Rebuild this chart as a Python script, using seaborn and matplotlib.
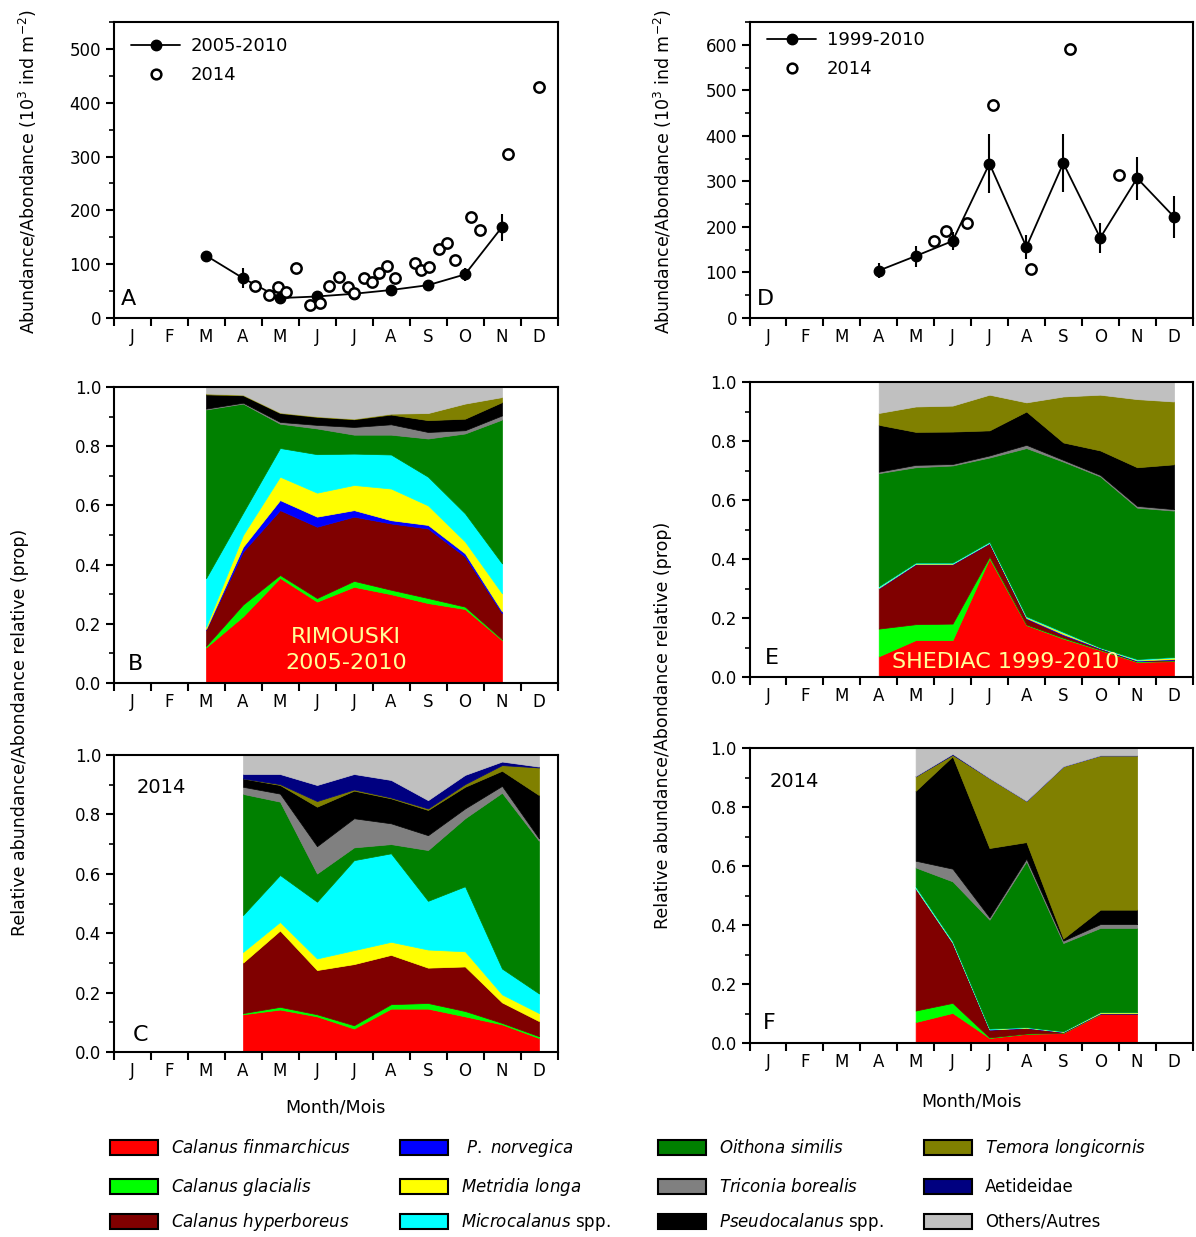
import numpy as np
import pandas as pd
import matplotlib
matplotlib.use("Agg")
import matplotlib.pyplot as plt
import seaborn as sns
from matplotlib.lines import Line2D
from matplotlib.patches import Patch
from matplotlib.ticker import MultipleLocator, FormatStrFormatter

# ------------------------------------------------------------------ data
MONTHS = ["J", "F", "M", "A", "M", "J", "J", "A", "S", "O", "N", "D"]

SPECIES_KEYS = ["cfin", "cgla", "chyp", "pnor", "mlon", "micr",
                "oith", "tric", "pseu", "temo", "aeti", "othr"]
SPECIES_LABELS = [r"$\it{Calanus\ finmarchicus}$", r"$\it{Calanus\ glacialis}$",
                  r"$\it{Calanus\ hyperboreus}$", r" $\it{P.\ norvegica}$",
                  r"$\it{Metridia\ longa}$", r"$\it{Microcalanus}$ spp.",
                  r"$\it{Oithona\ similis}$", r"$\it{Triconia\ borealis}$",
                  r"$\it{Pseudocalanus}$ spp.", r"$\it{Temora\ longicornis}$",
                  "Aetideidae", "Others/Autres"]
SPECIES_COLORS = ["#FF0000", "#00FF00", "#800000", "#0000FF", "#FFFF00", "#00FFFF",
                  "#008000", "#808080", "#000000", "#808000", "#000080", "#C0C0C0"]

# Panel A - Rimouski abundance (10^3 ind m-2), month position (0 = 1 Jan)
rim_mean_x = [2.5, 3.5, 4.5, 5.5, 6.5, 7.5, 8.5, 9.5, 10.5]
rim_mean = [116, 74, 37, 40, 45, 52, 61, 81, 169]
rim_err = [6, 18, 8, 6, 5, 7, 6, 12, 25]
rim14_x = [3.82, 4.20, 4.44, 4.66, 4.92, 5.31, 5.59, 5.83, 6.10, 6.33, 6.51, 6.77, 6.98,
           7.18, 7.39, 7.61, 8.16, 8.31, 8.54, 8.80, 9.01, 9.22, 9.67, 9.91, 10.66, 11.50]
rim14 = [60, 42, 57, 49, 92, 25, 27, 60, 77, 57, 46, 75, 66,
         84, 97, 74, 102, 90, 95, 129, 140, 107, 188, 163, 305, 429]

# Panel D - Shediac abundance
she_mean_x = [3.5, 4.5, 5.5, 6.5, 7.5, 8.5, 9.5, 10.5, 11.5]
she_mean = [104, 136, 169, 339, 156, 340, 176, 307, 222]
she_err = [17, 23, 20, 65, 26, 64, 33, 47, 47]
she14_x = [4.99, 5.33, 5.90, 6.59, 7.62, 8.67, 10.01]
she14 = [170, 191, 209, 468, 108, 590, 313]

# Panel B - Rimouski 2005-2010 relative composition, months Mar..Nov
rimB_months = [3, 4, 5, 6, 7, 8, 9, 10, 11]
rimB = dict(
    cfin=[0.120, 0.225, 0.355, 0.275, 0.325, 0.300, 0.270, 0.250, 0.145],
    cgla=[0.005, 0.040, 0.010, 0.012, 0.020, 0.015, 0.017, 0.008, 0.003],
    chyp=[0.055, 0.179, 0.219, 0.241, 0.217, 0.224, 0.235, 0.169, 0.088],
    pnor=[0.002, 0.016, 0.034, 0.034, 0.022, 0.011, 0.012, 0.011, 0.006],
    mlon=[0.008, 0.040, 0.079, 0.081, 0.085, 0.107, 0.066, 0.040, 0.061],
    micr=[0.164, 0.075, 0.097, 0.130, 0.106, 0.115, 0.097, 0.095, 0.101],
    oith=[0.570, 0.369, 0.082, 0.087, 0.064, 0.067, 0.129, 0.270, 0.486],
    tric=[0.003, 0.003, 0.006, 0.012, 0.026, 0.035, 0.022, 0.011, 0.014],
    pseu=[0.048, 0.025, 0.030, 0.027, 0.026, 0.033, 0.040, 0.039, 0.045],
    temo=[0.003, 0.002, 0.002, 0.002, 0.002, 0.003, 0.024, 0.051, 0.017],
    aeti=[0.0, 0.0, 0.0, 0.0, 0.0, 0.0, 0.0, 0.0, 0.0],
    othr=[0.022, 0.026, 0.086, 0.099, 0.107, 0.090, 0.088, 0.056, 0.034],
)

# Panel C - Rimouski 2014, months Apr..Dec
rimC_months = [4, 5, 6, 7, 8, 9, 10, 11, 12]
rimC = dict(
    cfin=[0.127, 0.143, 0.120, 0.079, 0.146, 0.146, 0.120, 0.093, 0.047],
    cgla=[0.004, 0.009, 0.007, 0.011, 0.015, 0.019, 0.018, 0.005, 0.006],
    chyp=[0.170, 0.257, 0.149, 0.206, 0.166, 0.119, 0.150, 0.069, 0.051],
    pnor=[0.0, 0.0, 0.0, 0.0, 0.0, 0.0, 0.0, 0.0, 0.0],
    mlon=[0.036, 0.029, 0.039, 0.047, 0.044, 0.061, 0.051, 0.027, 0.027],
    micr=[0.124, 0.158, 0.191, 0.303, 0.298, 0.164, 0.219, 0.087, 0.066],
    oith=[0.408, 0.247, 0.095, 0.043, 0.031, 0.171, 0.229, 0.592, 0.514],
    tric=[0.024, 0.027, 0.092, 0.098, 0.070, 0.050, 0.033, 0.023, 0.008],
    pseu=[0.028, 0.029, 0.133, 0.093, 0.084, 0.085, 0.073, 0.051, 0.146],
    temo=[0.000, 0.003, 0.019, 0.004, 0.003, 0.005, 0.009, 0.019, 0.093],
    aeti=[0.015, 0.034, 0.054, 0.052, 0.059, 0.028, 0.031, 0.012, 0.003],
    othr=[0.064, 0.064, 0.101, 0.064, 0.084, 0.152, 0.067, 0.022, 0.039],
)

# Panel E - Shediac 1999-2010, months Apr..Dec
sheE_months = [4, 5, 6, 7, 8, 9, 10, 11, 12]
sheE = dict(
    cfin=[0.070, 0.125, 0.125, 0.402, 0.176, 0.130, 0.091, 0.051, 0.054],
    cgla=[0.094, 0.054, 0.056, 0.006, 0.002, 0.003, 0.002, 0.002, 0.002],
    chyp=[0.136, 0.203, 0.201, 0.045, 0.020, 0.009, 0.003, 0.001, 0.003],
    pnor=[0.002, 0.002, 0.002, 0.002, 0.002, 0.003, 0.002, 0.002, 0.002],
    mlon=[0.002, 0.001, 0.001, 0.001, 0.003, 0.005, 0.001, 0.002, 0.005],
    micr=[0.004, 0.003, 0.003, 0.003, 0.003, 0.003, 0.001, 0.003, 0.002],
    oith=[0.383, 0.323, 0.329, 0.285, 0.570, 0.577, 0.580, 0.513, 0.496],
    tric=[0.005, 0.008, 0.005, 0.007, 0.011, 0.006, 0.005, 0.006, 0.005],
    pseu=[0.159, 0.112, 0.110, 0.085, 0.113, 0.059, 0.083, 0.131, 0.152],
    temo=[0.040, 0.086, 0.088, 0.121, 0.031, 0.156, 0.189, 0.231, 0.213],
    aeti=[0.0, 0.0, 0.0, 0.0, 0.0, 0.0, 0.0, 0.0, 0.0],
    othr=[0.105, 0.083, 0.080, 0.043, 0.069, 0.049, 0.043, 0.058, 0.066],
)

# Panel F - Shediac 2014, months May..Nov
sheF_months = [5, 6, 7, 8, 9, 10, 11]
sheF = dict(
    cfin=[0.071, 0.102, 0.017, 0.031, 0.034, 0.098, 0.098],
    cgla=[0.039, 0.034, 0.002, 0.001, 0.001, 0.001, 0.001],
    chyp=[0.413, 0.203, 0.026, 0.019, 0.002, 0.001, 0.001],
    pnor=[0.001, 0.001, 0.001, 0.001, 0.001, 0.001, 0.001],
    mlon=[0.002, 0.002, 0.001, 0.001, 0.001, 0.003, 0.003],
    micr=[0.005, 0.004, 0.002, 0.001, 0.001, 0.001, 0.001],
    oith=[0.064, 0.202, 0.369, 0.562, 0.299, 0.285, 0.285],
    tric=[0.023, 0.043, 0.008, 0.009, 0.008, 0.013, 0.013],
    pseu=[0.237, 0.381, 0.235, 0.056, 0.007, 0.049, 0.049],
    temo=[0.049, 0.005, 0.237, 0.140, 0.584, 0.523, 0.523],
    aeti=[0.001, 0.003, 0.0, 0.0, 0.0, 0.0, 0.0],
    othr=[0.095, 0.020, 0.102, 0.179, 0.062, 0.025, 0.025],
)

# ------------------------------------------------------------------ style
sns.set_theme(style="ticks")
plt.rcParams["font.family"] = ["DejaVu Sans"]
plt.rcParams["mathtext.fontset"] = "dejavusans"
plt.rcParams["text.color"] = "black"
plt.rcParams["axes.labelcolor"] = "black"
plt.rcParams["xtick.color"] = "black"
plt.rcParams["ytick.color"] = "black"

W, H = 1196, 1237
fig = plt.figure(figsize=(W / 100, H / 100), dpi=100)


def rect(l, r, t, b):
    return [l / W, 1 - b / H, (r - l) / W, (b - t) / H]


TICK_FS = 12
LABEL_FS = 12.5


def style_axes(ax, ymax, major, minor, fmt=None):
    ax.set_xlim(0, 12)
    ax.set_ylim(0, ymax)
    ax.set_xticks(np.arange(13))
    ax.set_xticklabels([])
    ax.set_xticks(np.arange(12) + 0.5, minor=True)
    ax.set_xticklabels(MONTHS, minor=True)
    ax.tick_params(axis="x", which="major", length=6, width=1.5, direction="out")
    ax.tick_params(axis="x", which="minor", length=0, pad=7, labelsize=TICK_FS)
    ax.yaxis.set_major_locator(MultipleLocator(major))
    ax.yaxis.set_minor_locator(MultipleLocator(minor))
    if fmt:
        ax.yaxis.set_major_formatter(FormatStrFormatter(fmt))
    ax.tick_params(axis="y", which="major", length=6, width=1.5, direction="out",
                   labelsize=TICK_FS, pad=3)
    ax.tick_params(axis="y", which="minor", length=3.5, width=1.2, direction="out")
    for s in ax.spines.values():
        s.set_visible(True)
        s.set_linewidth(1.5)
        s.set_color("black")
    ax.grid(False)
    ax.set_xlabel("")
    ax.set_ylabel("")


def abundance_panel(ax, mx, my, merr, px, py, lab_mean, letter, ymax, leg_y):
    ax.errorbar(mx, my, yerr=merr, fmt="-o", color="black", lw=1.3, ms=7.5,
                elinewidth=1.5, capsize=0, zorder=3)
    df = pd.DataFrame({"month": px, "abund": py})
    sns.scatterplot(data=df, x="month", y="abund", ax=ax, marker="o", s=55,
                    facecolor="white", edgecolor="black", linewidth=1.8, zorder=4)
    style_axes(ax, ymax, 100, 50)
    handles = [Line2D([0], [0], color="black", lw=1.3, marker="o", ms=7.5),
               Line2D([0], [0], color="none", marker="o", ms=7, mfc="white",
                      mec="black", mew=1.8)]
    ax.legend(handles, [lab_mean, "2014"], loc="upper left", frameon=False,
              fontsize=13, handlelength=2.7, handletextpad=0.6, labelspacing=0.58,
              borderpad=0, borderaxespad=0,
              bbox_to_anchor=(0.04, leg_y))
    ax.text(0.017, 0.03, letter, transform=ax.transAxes, fontsize=16,
            ha="left", va="bottom")


def composition_panel(ax, months, data, letter, letter_xy):
    x = np.array(months) - 0.5
    ys = [np.array(data[k]) for k in SPECIES_KEYS]
    polys = ax.stackplot(x, ys, colors=SPECIES_COLORS, zorder=2)
    for poly, y in zip(polys, ys):
        if y.max() > 0:
            poly.set_edgecolor("face")
            poly.set_linewidth(0.5)
        else:
            poly.set_linewidth(0)
    style_axes(ax, 1.0, 0.2, 0.1, "%.1f")
    ax.text(letter_xy[0], letter_xy[1], letter, transform=ax.transAxes,
            fontsize=16, ha="left", va="bottom", zorder=5)


# ------------------------------------------------------------------ panels
axA = fig.add_axes(rect(113.5, 557.5, 22, 318))
abundance_panel(axA, rim_mean_x, rim_mean, rim_err, rim14_x, rim14,
                "2005-2010", "A", 550, 0.948)

axD = fig.add_axes(rect(749.5, 1192.5, 22, 318))
abundance_panel(axD, she_mean_x, she_mean, she_err, she14_x, she14,
                "1999-2010", "D", 650, 0.968)

axB = fig.add_axes(rect(113.5, 557.5, 387, 683))
composition_panel(axB, rimB_months, rimB, "B", (0.033, 0.03))
axB.text(6.28, 0.112, "RIMOUSKI\n2005-2010", ha="center", va="center",
         fontsize=16, color="#FFFF99", linespacing=1.35, zorder=6)

axC = fig.add_axes(rect(113.5, 557.5, 755, 1052))
composition_panel(axC, rimC_months, rimC, "C", (0.044, 0.025))
axC.text(0.053, 0.89, "2014", transform=axC.transAxes, fontsize=14,
         ha="left", va="center")

axE = fig.add_axes(rect(749.5, 1192.5, 382, 677))
composition_panel(axE, sheE_months, sheE, "E", (0.035, 0.03))
axE.text(6.95, 0.05, "SHEDIAC 1999-2010", ha="center", va="center",
         fontsize=16, color="#FFFF99", zorder=6)

axF = fig.add_axes(rect(749.5, 1192.5, 748, 1043))
composition_panel(axF, sheF_months, sheF, "F", (0.03, 0.035))
axF.text(0.046, 0.885, "2014", transform=axF.transAxes, fontsize=14,
         ha="left", va="center")

# ------------------------------------------------------------------ labels
ab_label = r"Abundance/Abondance (10$^3$ ind m$^{-2}$)"
rel_label = "Relative abundance/Abondance relative (prop)"
fig.text(28 / W, 1 - 172 / H, ab_label, rotation=90, ha="center", va="center",
         fontsize=LABEL_FS)
fig.text(663 / W, 1 - 172 / H, ab_label, rotation=90, ha="center", va="center",
         fontsize=LABEL_FS)
fig.text(20 / W, 1 - 732 / H, rel_label, rotation=90, ha="center", va="center",
         fontsize=LABEL_FS)
fig.text(663 / W, 1 - 725 / H, rel_label, rotation=90, ha="center", va="center",
         fontsize=LABEL_FS)
fig.text(335 / W, 1 - 1107 / H, "Month/Mois", ha="center", va="center",
         fontsize=LABEL_FS)
fig.text(971 / W, 1 - 1101 / H, "Month/Mois", ha="center", va="center",
         fontsize=LABEL_FS)

# ------------------------------------------------------------------ legend
col_x = [110, 400, 658, 924]
row_y = [1148, 1187, 1222]
for c in range(4):
    for r in range(3):
        i = c * 3 + r
        h = Patch(facecolor=SPECIES_COLORS[i], edgecolor="black", linewidth=1.5)
        fig.legend([h], [SPECIES_LABELS[i]], loc="center left",
                   bbox_to_anchor=(col_x[c] / W, 1 - row_y[r] / H),
                   frameon=False, fontsize=12, handlelength=2.9, handleheight=1.05,
                   handletextpad=0.75, borderpad=0, borderaxespad=0)

fig.savefig("out.png", dpi=100)
